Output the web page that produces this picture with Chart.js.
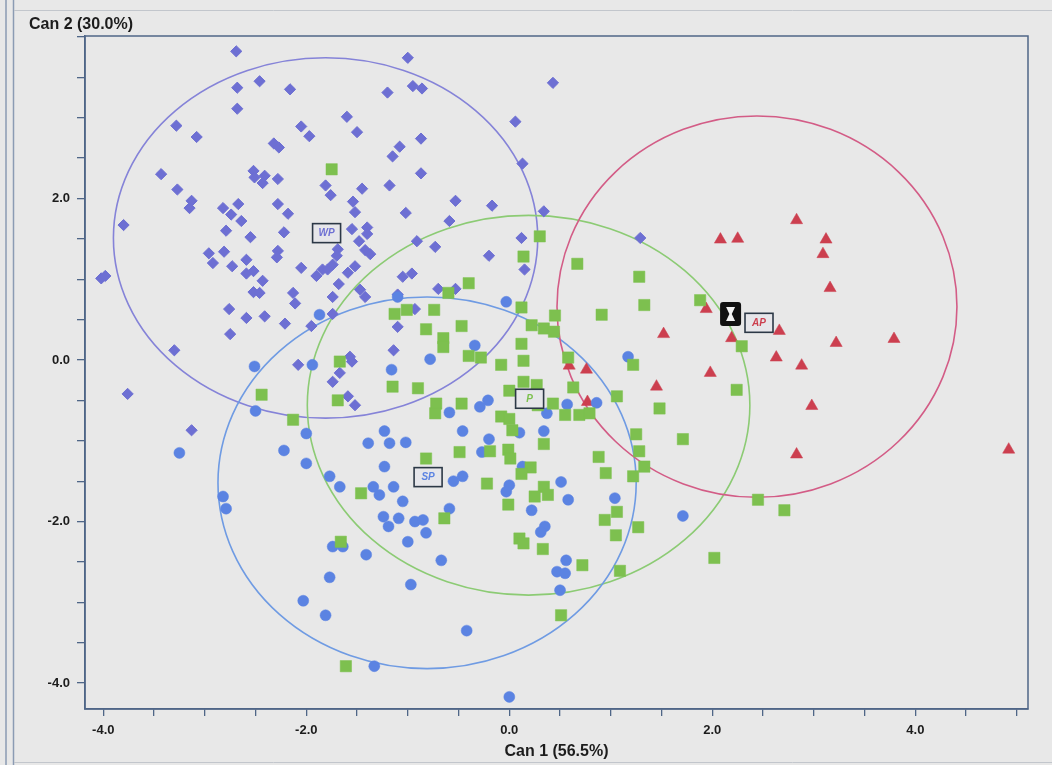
<!DOCTYPE html>
<html>
<head>
<meta charset="utf-8">
<script src="https://cdn.jsdelivr.net/npm/chart.js@4/dist/chart.umd.min.js"></script>
<style>
  html, body { margin: 0; padding: 0; background: #e8e8e8; }
  canvas { display: block; }
</style>
</head>
<body>
<canvas id="c" width="1052" height="765"></canvas>
<script>
// ---- data (canonical scores) ----
const wpPoints = [
  [-2.69,3.82],[-2.68,3.37],[-2.46,3.45],[-2.16,3.35],[-2.68,3.11],[-3.28,2.90],[-3.08,2.76],[-2.05,2.89],[-1.97,2.77],[-2.32,2.68],
  [-2.27,2.63],[-3.43,2.30],[-2.52,2.34],[-2.51,2.26],[-2.41,2.28],[-2.43,2.19],[-2.28,2.24],[-3.27,2.11],[-3.13,1.97],[-3.15,1.88],
  [-2.82,1.88],[-2.74,1.80],[-2.67,1.93],[-2.64,1.72],[-2.28,1.93],[-2.18,1.81],[-3.80,1.67],[-2.79,1.60],[-2.55,1.52],[-2.22,1.58],
  [-1.81,2.16],[-1.76,2.04],[-2.96,1.32],[-2.92,1.20],[-2.81,1.34],[-2.73,1.16],[-2.59,1.24],[-2.59,1.07],[-2.52,1.10],[-2.28,1.35],
  [-2.29,1.27],[-2.43,0.98],[-2.05,1.14],[-1.90,1.04],[-1.84,1.12],[-1.79,1.12],[-4.02,1.01],[-3.98,1.04],[-2.52,0.84],[-2.46,0.83],[-2.13,0.83],
  [-1.00,3.74],[0.43,3.43],[-1.20,3.31],[-0.95,3.39],[-0.86,3.36],[-1.60,3.01],[-1.50,2.82],[-0.87,2.74],[-1.08,2.64],[-1.15,2.52],
  [0.06,2.95],[0.13,2.43],[-0.87,2.31],[-1.18,2.16],[-1.45,2.12],[-1.54,1.96],[-1.52,1.83],[-0.53,1.97],[-0.17,1.91],[-1.02,1.82],
  [0.34,1.84],[-0.59,1.72],[-1.55,1.62],[-1.40,1.64],[-1.40,1.56],[-0.91,1.47],[-0.73,1.40],[-1.48,1.47],[-1.42,1.36],[-1.37,1.31],
  [-1.69,1.37],[-1.70,1.29],[-1.74,1.18],[-1.52,1.16],[-1.59,1.08],[0.12,1.51],[-0.20,1.29],[0.15,1.12],[-1.05,1.03],[-0.96,1.07],
  [-1.68,0.94],[-1.47,0.87],[-0.70,0.88],[-0.53,0.88],[-1.10,0.81],
  [-2.76,0.63],[-2.59,0.52],[-2.41,0.54],[-2.21,0.45],[-2.75,0.32],[-2.11,0.70],[-1.74,0.78],[-1.42,0.78],[-0.93,0.63],[-1.95,0.42],
  [-1.10,0.41],[-1.57,0.04],[-1.55,-0.02],[-1.67,-0.16],[-1.74,-0.27],[-1.59,-0.45],[-1.52,-0.56],[-1.14,0.12],[-2.08,-0.06],[-3.13,-0.87],
  [-1.74,0.57],[1.29,1.51],[-3.76,-0.42],[-3.30,0.12]
];
const spPoints = [
  [-1.87,0.56],[-2.51,-0.08],[-1.94,-0.06],[-2.50,-0.63],[-2.00,-0.91],[-2.22,-1.12],[-2.00,-1.28],[-1.77,-1.44],[-1.67,-1.57],[-2.82,-1.69],
  [-2.79,-1.84],[-1.23,-0.88],[-1.18,-1.03],[-1.39,-1.03],[-1.02,-1.02],[-1.23,-1.32],[-1.34,-1.57],[-1.28,-1.67],[-1.14,-1.57],[-1.05,-1.75],
  [-1.24,-1.94],[-1.19,-2.06],[-1.09,-1.96],[-0.93,-2.00],[-0.85,-1.98],[-0.82,-2.14],[-1.00,-2.25],[-1.74,-2.31],[-1.64,-2.31],[-1.41,-2.41],
  [-1.77,-2.69],[-0.97,-2.78],[-2.03,-2.98],[-1.81,-3.16],[-1.33,-3.79],[-1.16,-0.12],[-0.78,0.01],[-3.25,-1.15],[-1.10,0.78],[-0.03,0.72],
  [-0.34,0.18],[-0.59,-0.65],[-0.29,-0.58],[-0.21,-0.50],[-0.46,-0.88],[-0.20,-0.98],[-0.27,-1.14],[0.10,-0.90],[0.34,-0.88],[0.57,-0.55],
  [0.86,-0.53],[0.37,-0.66],[1.17,0.04],[-0.55,-1.50],[-0.46,-1.44],[0.13,-1.32],[0.00,-1.55],[-0.03,-1.63],[0.51,-1.51],[0.58,-1.73],
  [0.22,-1.86],[-0.59,-1.84],[0.35,-2.06],[0.31,-2.13],[1.04,-1.71],[-0.67,-2.48],[0.56,-2.48],[0.47,-2.62],[0.55,-2.64],[0.50,-2.85],
  [-0.42,-3.35],[0.00,-4.17],[1.71,-1.93]
];
const pPoints = [
  [-1.75,2.36],[0.30,1.53],[0.14,1.28],[0.67,1.19],[-0.40,0.95],[-0.60,0.83],[1.28,1.03],[1.33,0.68],[0.91,0.56],[1.88,0.74],
  [2.29,0.17],[2.24,-0.37],[1.48,-0.60],[1.71,-0.98],[2.45,-1.73],[2.71,-1.86],[2.02,-2.45],[-1.13,0.57],[-1.01,0.62],[-0.74,0.62],
  [-0.82,0.38],[-0.47,0.42],[-0.65,0.27],[-0.65,0.16],[0.12,0.65],[0.45,0.55],[0.22,0.43],[0.34,0.39],[0.44,0.35],[0.12,0.20],
  [-0.40,0.05],[-0.28,0.03],[-0.08,-0.06],[0.14,-0.01],[0.58,0.03],[-1.67,-0.02],[-1.15,-0.33],[-0.90,-0.35],[-1.69,-0.50],[-2.13,-0.74],
  [-0.72,-0.54],[-0.73,-0.66],[-0.47,-0.54],[0.00,-0.38],[0.14,-0.27],[0.27,-0.31],[0.63,-0.34],[-0.08,-0.70],[0.00,-0.73],[0.03,-0.87],
  [0.28,-0.56],[0.43,-0.54],[0.55,-0.68],[0.69,-0.68],[0.79,-0.66],[0.34,-1.04],[-0.49,-1.14],[-0.19,-1.13],[-0.01,-1.11],[0.01,-1.22],
  [-0.82,-1.22],[0.21,-1.33],[0.12,-1.41],[-0.22,-1.53],[-1.46,-1.65],[0.34,-1.57],[0.38,-1.67],[0.25,-1.69],[1.22,-0.06],[1.06,-0.45],
  [1.25,-0.92],[1.28,-1.13],[1.33,-1.32],[0.88,-1.20],[0.95,-1.40],[1.22,-1.44],[-0.01,-1.79],[-0.64,-1.96],[0.94,-1.98],[1.06,-1.88],
  [1.05,-2.17],[1.27,-2.07],[0.10,-2.21],[0.14,-2.27],[0.33,-2.34],[0.72,-2.54],[1.09,-2.61],[0.51,-3.16],[-2.44,-0.43],[-1.66,-2.25],
  [-1.61,-3.79]
];
const apPoints = [
  [2.08,1.49],[2.25,1.50],[2.83,1.73],[3.12,1.49],[3.09,1.31],[3.16,0.89],[1.94,0.63],[2.66,0.36],[2.19,0.27],[3.22,0.21],
  [3.79,0.26],[2.63,0.03],[2.88,-0.07],[1.98,-0.16],[2.98,-0.57],[2.83,-1.17],[4.92,-1.11],[1.52,0.32],[1.45,-0.33],[0.59,-0.07],
  [0.76,-0.12],[0.77,-0.52]
];
// confidence circles (data units)
const circleNames = ['WP','P','SP','AP'];
const circleCenterX = [-1.81, 0.19, -0.81, 2.44];
const circleCenterY = [1.51, -0.56, -1.52, 0.66];
const circleRadiusX = [2.09, 2.18, 2.06, 1.97];
const circleRadiusY = [2.23, 2.35, 2.30, 2.36];
// group mean labels
const labelTexts = ['WP','P','SP','AP'];
const labelX = [-1.80, 0.20, -0.80, 2.46];
const labelY = [1.57, -0.48, -1.45, 0.46];
// unknown sample marker
const unknownPoint = [2.18, 0.57];
// axes
const xTitle = 'Can 1 (56.5%)';
const yTitle = 'Can 2 (30.0%)';
const xRange = [-4.18, 5.11];
const yRange = [-4.32, 4.01];
const tickStep = 0.5;
const labelStep = 2;

// ---- styles ----
const FONT = "'Liberation Sans', Arial, sans-serif";
const col = { WP: '#6d6fd3', SP: '#5b83e2', P: '#7dc04f', AP: '#cc3f4f' };
const circleCol = { WP: '#8583d8', P: '#8ccb74', SP: '#6f9be3', AP: '#d35c86' };
const axisCol = '#4f6687';
const toXY = a => a.map(p => ({ x: p[0], y: p[1] }));

const decor = {
  id: 'decor',
  beforeDraw(chart) {
    const ctx = chart.ctx;
    ctx.save();
    ctx.fillStyle = '#e8e8e8';
    ctx.fillRect(0, 0, chart.width, chart.height);
    ctx.strokeStyle = '#8b9bb3';
    ctx.lineWidth = 1.5;
    ctx.beginPath();
    ctx.moveTo(6, 0); ctx.lineTo(6, chart.height);
    ctx.moveTo(13.5, 0); ctx.lineTo(13.5, chart.height);
    ctx.stroke();
    ctx.strokeStyle = '#c2c6cc';
    ctx.lineWidth = 1;
    ctx.beginPath();
    ctx.moveTo(14, 10.5); ctx.lineTo(chart.width, 10.5);
    ctx.moveTo(14, 762.5); ctx.lineTo(chart.width, 762.5);
    ctx.stroke();
    ctx.restore();
  },
  beforeDatasetsDraw(chart) {
    const ctx = chart.ctx, xs = chart.scales.x, ys = chart.scales.y;
    ctx.save();
    ctx.lineWidth = 1.6;
    circleCenterX.forEach((cx, i) => {
      const px = xs.getPixelForValue(cx), py = ys.getPixelForValue(circleCenterY[i]);
      const rx = xs.getPixelForValue(cx + circleRadiusX[i]) - px;
      const ry = py - ys.getPixelForValue(circleCenterY[i] + circleRadiusY[i]);
      ctx.strokeStyle = circleCol[circleNames[i]];
      ctx.beginPath();
      ctx.ellipse(px, py, rx, ry, 0, 0, Math.PI * 2);
      ctx.stroke();
    });
    ctx.restore();
  },
  afterDatasetsDraw(chart) {
    const ctx = chart.ctx, xs = chart.scales.x, ys = chart.scales.y, a = chart.chartArea;
    ctx.save();
    // group labels
    labelTexts.forEach((t, i) => {
      const px = xs.getPixelForValue(labelX[i]), py = ys.getPixelForValue(labelY[i]);
      ctx.fillStyle = '#e6e6ea';
      ctx.fillRect(px - 14, py - 9.5, 28, 19);
      ctx.strokeStyle = '#2c3846';
      ctx.lineWidth = 1.6;
      ctx.strokeRect(px - 14, py - 9.5, 28, 19);
      ctx.fillStyle = col[t];
      ctx.font = "bold italic 10px " + FONT;
      ctx.textAlign = 'center';
      ctx.textBaseline = 'middle';
      ctx.fillText(t, px, py + 0.5);
    });
    // unknown marker
    const ux = xs.getPixelForValue(unknownPoint[0]), uy = ys.getPixelForValue(unknownPoint[1]);
    ctx.fillStyle = '#111';
    ctx.beginPath();
    ctx.roundRect(ux - 10.5, uy - 12, 21, 24, 3);
    ctx.fill();
    ctx.fillStyle = '#f2f2f2';
    ctx.beginPath();
    ctx.moveTo(ux - 4.5, uy - 7); ctx.lineTo(ux + 4.5, uy - 7); ctx.lineTo(ux + 1.2, uy);
    ctx.lineTo(ux + 4.5, uy + 7); ctx.lineTo(ux - 4.5, uy + 7); ctx.lineTo(ux - 1.2, uy);
    ctx.closePath();
    ctx.fill();
    // plot frame
    ctx.strokeStyle = axisCol;
    ctx.lineWidth = 1.5;
    ctx.strokeRect(a.left, a.top, a.right - a.left, a.bottom - a.top);
    ctx.restore();
  }
};

const tickCb = (maxLabel) => function (v) {
  const r = Math.abs(v / labelStep - Math.round(v / labelStep));
  if (r > 1e-6) return '';
  if (maxLabel !== undefined && v >= maxLabel - 1e-6) return '';
  return Number(v).toFixed(1);
};

new Chart(document.getElementById('c'), {
  type: 'scatter',
  data: {
    datasets: [
      { label: 'P', data: toXY(pPoints), pointStyle: 'rect', pointRadius: 8,
        backgroundColor: col.P, borderColor: col.P, pointBorderWidth: 0.5 },
      { label: 'SP', data: toXY(spPoints), pointStyle: 'circle', pointRadius: 5.5,
        backgroundColor: col.SP, borderColor: col.SP, pointBorderWidth: 0.5 },
      { label: 'AP', data: toXY(apPoints), pointStyle: 'triangle', pointRadius: 7,
        backgroundColor: col.AP, borderColor: col.AP, pointBorderWidth: 0.5 },
      { label: 'WP', data: toXY(wpPoints), pointStyle: 'rectRot', pointRadius: 5.6,
        backgroundColor: col.WP, borderColor: col.WP, pointBorderWidth: 1 }
    ]
  },
  options: {
    responsive: false,
    animation: false,
    devicePixelRatio: 1,
    layout: { padding: { left: 29, right: 24, top: 0, bottom: 0 } },
    plugins: {
      legend: { display: false },
      tooltip: { enabled: false },
      title: {
        display: true, text: yTitle, align: 'start', color: '#1c1c1c',
        font: { family: FONT, size: 16, weight: 'bold' },
        padding: { top: 15.4, bottom: 1.4 }
      }
    },
    scales: {
      x: {
        type: 'linear', min: xRange[0], max: xRange[1],
        afterFit(s) { s.height = 56; },
        border: { display: true, color: axisCol, width: 1.5 },
        grid: { drawOnChartArea: false, drawTicks: true, tickLength: 7, color: axisCol, lineWidth: 1.3 },
        ticks: {
          stepSize: tickStep, autoSkip: false, includeBounds: false, maxRotation: 0,
          padding: 7, color: '#1c1c1c', font: { family: FONT, size: 13, weight: 'bold' },
          callback: tickCb()
        },
        title: {
          display: true, text: xTitle, color: '#1c1c1c',
          font: { family: FONT, size: 16, weight: 'bold' },
          padding: { top: 0, bottom: 3.4 }
        }
      },
      y: {
        type: 'linear', min: yRange[0], max: yRange[1],
        afterFit(s) { s.width = 56; },
        border: { display: true, color: axisCol, width: 1.5 },
        grid: { drawOnChartArea: false, drawTicks: true, tickLength: 8, color: axisCol, lineWidth: 1.3 },
        ticks: {
          stepSize: tickStep, autoSkip: false, includeBounds: false,
          padding: 7, color: '#1c1c1c', font: { family: FONT, size: 13, weight: 'bold' },
          callback: tickCb(4)
        }
      }
    }
  },
  plugins: [decor]
});
</script>
</body>
</html>
